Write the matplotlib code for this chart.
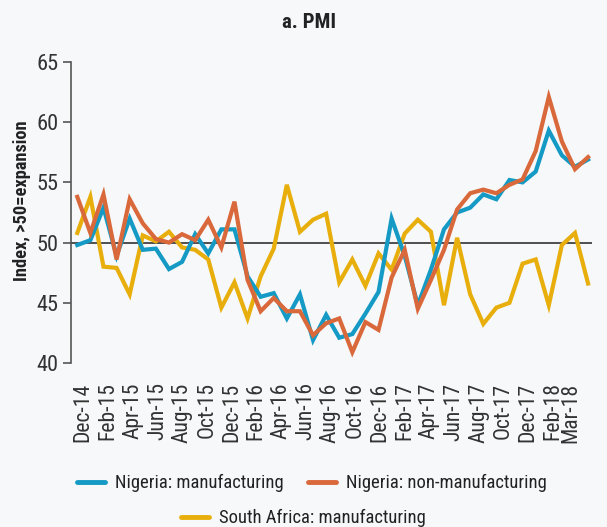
import matplotlib
matplotlib.use("Agg")
import matplotlib.pyplot as plt
from matplotlib.lines import Line2D
from matplotlib import font_manager as fm

months = ["Dec-14", "Jan-15", "Feb-15", "Mar-15", "Apr-15", "May-15", "Jun-15", "Jul-15",
          "Aug-15", "Sep-15", "Oct-15", "Nov-15", "Dec-15", "Jan-16", "Feb-16", "Mar-16",
          "Apr-16", "May-16", "Jun-16", "Jul-16", "Aug-16", "Sep-16", "Oct-16", "Nov-16",
          "Dec-16", "Jan-17", "Feb-17", "Mar-17", "Apr-17", "May-17", "Jun-17", "Jul-17",
          "Aug-17", "Sep-17", "Oct-17", "Nov-17", "Dec-17", "Jan-18", "Feb-18", "Mar-18"]

nigeria_mfg = [49.8, 50.2, 52.9, 48.9, 52.0, 49.4, 49.5, 47.8, 48.4, 50.7,
               49.1, 51.1, 51.1, 47.2, 45.5, 45.8, 43.7, 45.7, 41.9, 44.0,
               42.1, 42.4, 44.1, 45.9, 52.0, 48.9, 44.8, 47.75, 51.1, 52.5,
               52.9, 54.0, 53.6, 55.2, 55.0, 55.9, 59.3, 57.25, 56.3, 56.9]

nigeria_nonmfg = [53.8, 50.8, 54.0, 48.6, 53.6, 51.6, 50.3, 50.0, 50.7, 50.2,
                  51.9, 49.6, 53.4, 46.9, 44.3, 45.4, 44.3, 44.3, 42.3, 43.3,
                  43.7, 40.9, 43.4, 42.75, 47.1, 49.4, 44.5, 46.9, 49.4, 52.75,
                  54.1, 54.4, 54.1, 54.8, 55.25, 57.6, 62.1, 58.4, 56.1, 57.1]

sa_mfg = [50.8, 53.8, 48.0, 47.9, 45.7, 50.6, 50.1, 50.9, 49.6, 49.4,
          48.6, 44.6, 46.7, 43.7, 47.2, 49.5, 54.8, 50.9, 51.9, 52.4,
          46.7, 48.6, 46.4, 49.1, 47.75, 50.75, 51.9, 50.9, 44.8, 50.4,
          45.7, 43.25, 44.6, 45.0, 48.25, 48.6, 44.8, 49.8, 50.8, 46.6]

tick_labels = ["Dec-14", "Feb-15", "Apr-15", "Jun-15", "Aug-15", "Oct-15", "Dec-15",
               "Feb-16", "Apr-16", "Jun-16", "Aug-16", "Oct-16", "Dec-16", "Feb-17",
               "Apr-17", "Jun-17", "Aug-17", "Oct-17", "Dec-17", "Feb-18", "Mar-18"]

series_names = ["Nigeria: manufacturing", "Nigeria: non-manufacturing", "South Africa: manufacturing"]
colors = ["#149ac4", "#d9683a", "#e8ae0c"]

# ---- pick a narrow font if one is installed ----
family = "DejaVu Sans"
stretch = "normal"
names = {f.name for f in fm.fontManager.ttflist}
for cand in ["Liberation Sans Narrow", "Roboto Condensed", "Open Sans Condensed",
             "Noto Sans Condensed", "DejaVu Sans Condensed"]:
    if cand in names:
        family = cand
        break
else:
    for f in fm.fontManager.ttflist:
        if f.name == "DejaVu Sans" and "Condensed" in f.fname:
            stretch = "condensed"
            break
plt.rcParams['font.family'] = [family, 'DejaVu Sans']
plt.rcParams['font.stretch'] = stretch

bg = "#f6f8fa"
W, H = 607, 527
fig = plt.figure(figsize=(W / 100, H / 100), dpi=100, facecolor=bg)
renderer = fig.canvas.get_renderer()


def fit(s, target_px, weight="normal"):
    t = fig.text(0, 0, s, fontsize=10, fontweight=weight)
    w = t.get_window_extent(renderer).width
    t.remove()
    return 10 * target_px / w


fs_leg = fit("Nigeria: manufacturing", 168)
fs_xt = fit("Dec-14", 59)
fs_yt = fit("65", 22)
fs_yl = fit("Index, >50=expansion", 160, "bold")
fs_ti = fit("a. PMI", 54, "bold")

ax = fig.add_axes([71 / W, 1 - 363 / H, (592 - 71) / W, (363 - 62) / H], facecolor=bg)

x = list(range(len(months)))
ax.plot(x, sa_mfg, color=colors[2], lw=3.0, solid_joinstyle='miter', zorder=3)
ax.plot(x, nigeria_mfg, color=colors[0], lw=3.0, solid_joinstyle='miter', zorder=3.5)
ax.plot(x, nigeria_nonmfg, color=colors[1], lw=3.0, solid_joinstyle='miter', zorder=4)

ax.axhline(50, color="#333333", lw=1.2, zorder=2)

ax.set_xlim(-0.48, 39.3)
ax.set_ylim(40, 65)
ax.set_yticks([40, 45, 50, 55, 60, 65])
ax.tick_params(axis='y', length=6, width=1.2, color="#555555", labelsize=fs_yt,
               labelcolor="#333333", pad=3)

# tick label positions follow the reference's (slightly compressed) label spacing
label_idx = [months.index(t) for t in tick_labels]
label_pos = [2.34 + 0.944 * (i - 2) for i in label_idx]
label_pos[-1] = label_pos[-2] + 1.35
ax.set_xticks(label_pos)
ax.set_xticklabels(tick_labels, rotation=90, fontsize=fs_xt, color="#333333")
ax.tick_params(axis='x', length=0, pad=14)

for s in ['top', 'right', 'bottom']:
    ax.spines[s].set_visible(False)
ax.spines['left'].set_color("#555555")
ax.spines['left'].set_linewidth(1.2)

ax.set_ylabel("Index, >50=expansion", fontsize=fs_yl, fontweight='bold', color="#222222")
ax.yaxis.set_label_coords((31 - 71) / 521, (363 - 201) / 301)

fig.text(309 / W, 1 - 22 / H, "a. PMI", ha='center', va='center', fontsize=fs_ti,
         fontweight='bold', color="#222222")

fs_px = fs_leg * 100 / 72
h = [Line2D([0], [0], color=c, lw=3.5, solid_capstyle='round') for c in colors]
leg_pos = [(77, 483), (308, 483), (181, 518)]
for hh, name, (lx, ly) in zip(h, series_names, leg_pos):
    lg = fig.legend([hh], [name], loc='center left', bbox_to_anchor=(lx / W, 1 - ly / H),
                    frameon=False, fontsize=fs_leg, handlelength=28 / fs_px,
                    handletextpad=10 / fs_px, borderpad=0, borderaxespad=0,
                    labelcolor="#222222")

fig.savefig("out.png", dpi=100, facecolor=bg)
